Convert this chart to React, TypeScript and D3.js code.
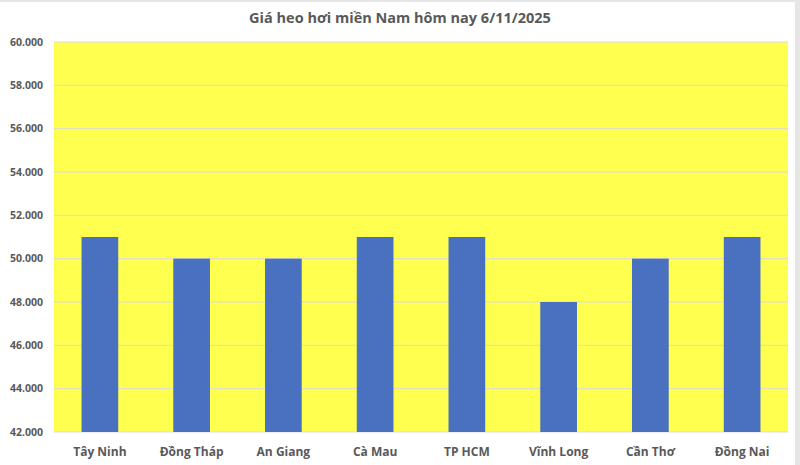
import React from "react";
import * as d3 from "d3";

const categories = ["Tây Ninh", "Đồng Tháp", "An Giang", "Cà Mau", "TP HCM", "Vĩnh Long", "Cần Thơ", "Đồng Nai"];
const prices = [51000, 50000, 50000, 51000, 51000, 48000, 50000, 51000];
const yTicks = [42000, 44000, 46000, 48000, 50000, 52000, 54000, 56000, 58000, 60000];
const title = "Giá heo hơi miền Nam hôm nay 6/11/2025";

const W = 800;
const H = 465;
const plot = { left: 54, right: 788, top: 42, bottom: 432 };
const fontFamily = "'Open Sans', 'Noto Sans', sans-serif";
const textColor = "#595959";

const fmt = (v: number) => d3.format(",")(v).replace(/,/g, ".");

export default function App() {
  const x = d3.scaleBand<string>().domain(categories).range([plot.left, plot.right]).paddingInner(0.6).paddingOuter(0.3);
  const y = d3.scaleLinear().domain([42000, 60000]).range([plot.bottom, plot.top]);

  return (
    <div style={{ position: "fixed", left: 0, top: 0 }}>
      <svg width={W} height={H} style={{ display: "block" }}>
        <rect x={0} y={0} width={W} height={H} fill="#e6e6e6" />
        <rect x={0} y={2} width={795} height={H - 2} fill="#ffffff" />
        <text x={400} y={23} textAnchor="middle" fontFamily={fontFamily} fontWeight={700} fontSize={14.5} fill={textColor}>
          {title}
        </text>
        <rect x={plot.left} y={plot.top} width={plot.right - plot.left} height={plot.bottom - plot.top} fill="#ffff50" />
        {yTicks.map((t) => (
          <g key={t}>
            <line x1={plot.left} x2={plot.right} y1={y(t)} y2={y(t)} stroke="#d9d9d9" strokeWidth={1} />
            <text x={43} y={y(t)} dy="0.35em" textAnchor="end" fontFamily={fontFamily} fontWeight={700} fontSize={10.5} fill={textColor}>
              {fmt(t)}
            </text>
          </g>
        ))}
        {categories.map((c, i) => (
          <rect key={c} x={x(c)} y={y(prices[i])} width={x.bandwidth()} height={y(42000) - y(prices[i])} fill="#4a70c0" />
        ))}
        {categories.map((c) => (
          <text key={c} x={(x(c) as number) + x.bandwidth() / 2} y={452} dy="0.35em" textAnchor="middle" fontFamily={fontFamily} fontWeight={700} fontSize={12} fill={textColor}>
            {c}
          </text>
        ))}
      </svg>
    </div>
  );
}
